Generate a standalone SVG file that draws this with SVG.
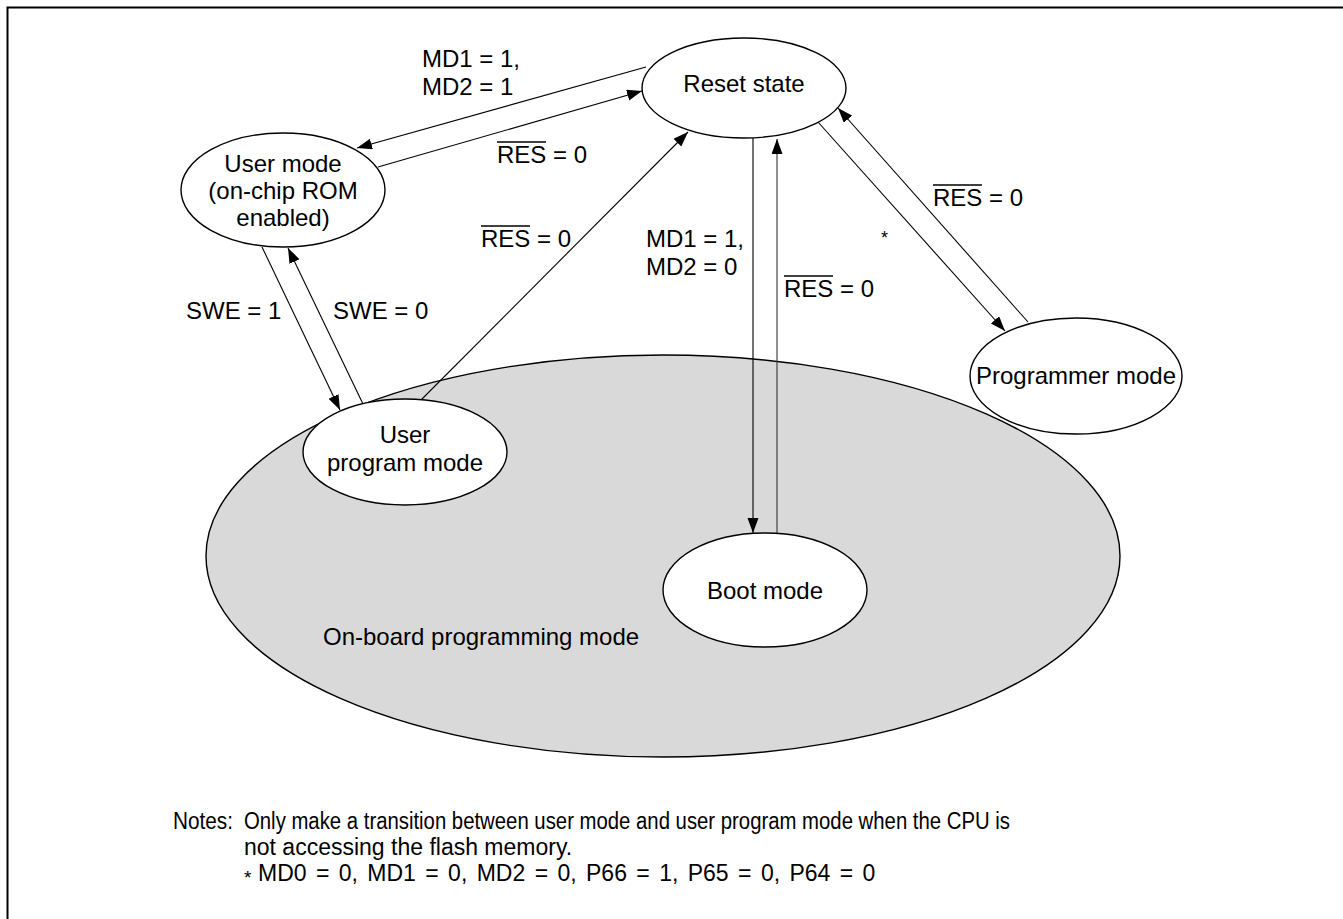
<svg xmlns="http://www.w3.org/2000/svg" width="1343" height="919" viewBox="0 0 1343 919">
<style>
text{font-family:"Liberation Sans",Arial,sans-serif;font-size:24px;fill:#000}
.n{fill:#fff;stroke:#000;stroke-width:1.4}
.c{stroke:#000;stroke-width:1.1;fill:none;marker-end:url(#ah)}
.ov{stroke:#000;stroke-width:1.3}
.note{font-size:23px}
</style>
<defs>
<marker id="ah" markerUnits="userSpaceOnUse" markerWidth="16" markerHeight="12" refX="15" refY="5.5" orient="auto">
<path d="M0,0 L15,5.5 L0,11 z" fill="#000"/>
</marker>
</defs>
<rect width="1343" height="919" fill="#fff"/>
<polyline points="7.5,919 7.5,7.5 1343,7.5" fill="none" stroke="#000" stroke-width="2"/>
<g id="onboard">
<ellipse cx="663" cy="556" rx="457" ry="201" fill="#d9d9d9" stroke="#000" stroke-width="1.4"/>
<text x="323" y="645">On-board programming mode</text>
</g>
<g id="connectors">
<line class="c" x1="646" y1="67" x2="357" y2="148"/>
<line class="c" x1="378" y1="167" x2="642" y2="91"/>
<line class="c" x1="420" y1="401" x2="688" y2="132"/>
<line class="c" x1="262" y1="247" x2="340" y2="410"/>
<line class="c" x1="363" y1="404" x2="288" y2="248"/>
<line class="c" x1="753" y1="138" x2="753" y2="533"/>
<line class="c" x1="777" y1="533" x2="777" y2="139" style="stroke:#333"/>
<line class="c" x1="818" y1="122" x2="1005" y2="331"/>
<line class="c" x1="1028" y1="322" x2="838" y2="108"/>
<text x="422" y="67">MD1 = 1,</text>
<text x="422" y="95">MD2 = 1</text>
<text x="497" y="163">RES = 0</text>
<line class="ov" x1="497" y1="142" x2="546" y2="142"/>
<text x="481" y="247">RES = 0</text>
<line class="ov" x1="481" y1="226" x2="530" y2="226"/>
<text x="186" y="319">SWE = 1</text>
<text x="333" y="319">SWE = 0</text>
<text x="646" y="247">MD1 = 1,</text>
<text x="646" y="275">MD2 = 0</text>
<text x="784" y="297">RES = 0</text>
<line class="ov" x1="784" y1="276" x2="833" y2="276"/>
<text x="933" y="206">RES = 0</text>
<line class="ov" x1="933" y1="185" x2="982" y2="185"/>
<text x="881" y="244" style="font-size:18px">*</text>
</g>
<g id="reset">
<ellipse class="n" cx="744" cy="88" rx="102" ry="50"/>
<text x="744" y="92" text-anchor="middle">Reset state</text>
</g>
<g id="usermode">
<ellipse class="n" cx="283" cy="190" rx="102" ry="57"/>
<text x="283" y="172" text-anchor="middle">User mode</text>
<text x="283" y="199" text-anchor="middle">(on-chip ROM</text>
<text x="283" y="226" text-anchor="middle">enabled)</text>
</g>
<g id="userprog">
<ellipse class="n" cx="405" cy="452" rx="102" ry="53"/>
<text x="405" y="443" text-anchor="middle">User</text>
<text x="405" y="471" text-anchor="middle">program mode</text>
</g>
<g id="boot">
<ellipse class="n" cx="765" cy="590" rx="102" ry="57"/>
<text x="765" y="599" text-anchor="middle">Boot mode</text>
</g>
<g id="programmer">
<ellipse class="n" cx="1076" cy="376" rx="106" ry="58"/>
<text x="1076" y="384" text-anchor="middle">Programmer mode</text>
</g>
<g id="notes">
<text class="note" x="173" y="829" textLength="60" lengthAdjust="spacingAndGlyphs">Notes:</text>
<text class="note" x="244" y="829" textLength="766" lengthAdjust="spacingAndGlyphs">Only make a transition between user mode and user program mode when the CPU is</text>
<text class="note" x="244" y="855">not accessing the flash memory.</text>
<text class="note" x="244" y="884" style="font-size:19px">*</text>
<text class="note" x="258" y="881" word-spacing="3">MD0 = 0, MD1 = 0, MD2 = 0, P66 = 1, P65 = 0, P64 = 0</text>
</g>
</svg>
